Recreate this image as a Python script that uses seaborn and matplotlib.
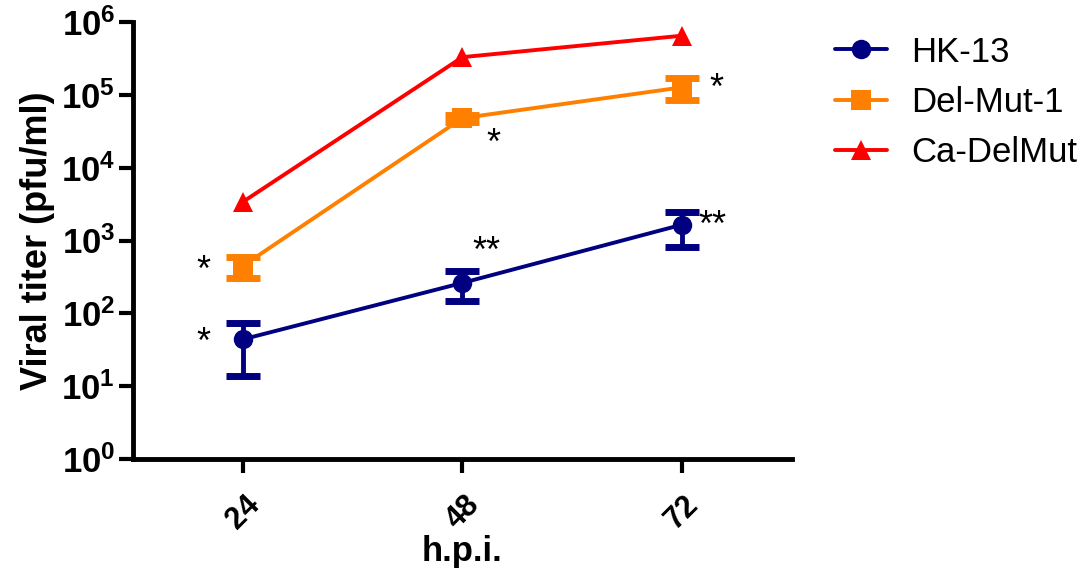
import numpy as np
import pandas as pd
import matplotlib
matplotlib.use("Agg")
import matplotlib.pyplot as plt
import seaborn as sns

# data (mean and SD, pfu/ml)
hours = [24, 48, 72]
strains = ["HK-13", "Del-Mut-1", "Ca-DelMut"]
hk13_mean = [44, 262, 1650]
hk13_sd = [30, 115, 830]
delmut_mean = [450, 48000, 127000]
delmut_sd = [140, 5000, 43000]
cadelmut_mean = [3400, 330000, 650000]
cadelmut_sd = [0, 0, 0]

# significance marks: (strain, hour, text)
stars = [("HK-13", 24, "*"), ("Del-Mut-1", 24, "*"),
         ("HK-13", 48, "**"), ("Del-Mut-1", 48, "*"),
         ("HK-13", 72, "**"), ("Del-Mut-1", 72, "*")]
star_offsets = [(-40, -4), (-40, -6), (24, 30), (31, -26), (30, -2), (34, -2)]

colors = {"HK-13": "#000080", "Del-Mut-1": "#FF8000", "Ca-DelMut": "#FF0000"}
markers = {"HK-13": "o", "Del-Mut-1": "s", "Ca-DelMut": "^"}
msizes = {"HK-13": 14, "Del-Mut-1": 14, "Ca-DelMut": 15}

df = pd.DataFrame({
    "hpi": hours * 3,
    "titer": hk13_mean + delmut_mean + cadelmut_mean,
    "sd": hk13_sd + delmut_sd + cadelmut_sd,
    "strain": [s for s in strains for _ in hours],
})

sns.set_style("ticks")
plt.rcParams["font.family"] = ["Liberation Sans", "DejaVu Sans"]
plt.rcParams["mathtext.fontset"] = "custom"
plt.rcParams["mathtext.rm"] = "Liberation Sans:bold"
plt.rcParams["mathtext.bf"] = "Liberation Sans:bold"
plt.rcParams["mathtext.it"] = "Liberation Sans:bold"
plt.rcParams["text.color"] = "black"
plt.rcParams["axes.labelcolor"] = "black"
plt.rcParams["xtick.color"] = "black"
plt.rcParams["ytick.color"] = "black"
plt.rcParams["axes.edgecolor"] = "black"

fig = plt.figure(figsize=(10.83, 5.81), dpi=100)
ax = fig.add_axes([0.123, 0.21, 0.608, 0.752])

# error bars first, then lines/markers on top
for s in strains:
    sub = df[df["strain"] == s]
    if sub["sd"].sum() > 0:
        ax.errorbar(sub["hpi"], sub["titer"], yerr=sub["sd"], fmt="none",
                    ecolor=colors[s], elinewidth=3.5, capsize=12, capthick=5,
                    zorder=2)

sns.lineplot(data=df, x="hpi", y="titer", hue="strain", style="strain",
             palette=colors, markers=markers, dashes=False, linewidth=2.8,
             markeredgewidth=0, ax=ax, zorder=3)
for line in ax.lines:
    for s in strains:
        if line.get_label() == s or matplotlib.colors.same_color(line.get_color(), colors[s]):
            line.set_markersize(msizes[s])

ax.set_yscale("log")
ax.set_ylim(1, 1e6)
ax.set_xlim(12, 84)
ax.set_xticks(hours)
ax.set_xticklabels([str(h) for h in hours], rotation=45, fontsize=22,
                   fontweight="bold")
ax.set_yticks([10.0 ** k for k in range(7)])
ax.yaxis.set_minor_locator(matplotlib.ticker.NullLocator())
for t in ax.get_yticklabels():
    t.set_fontsize(25)
    t.set_fontweight("bold")

ax.set_xlabel("h.p.i.", fontsize=25, fontweight="bold", labelpad=0)
ax.set_ylabel("Viral titer (pfu/ml)", fontsize=26, fontweight="bold",
              labelpad=4)

sns.despine(ax=ax)
for side in ["left", "bottom"]:
    ax.spines[side].set_linewidth(3.5)
ax.tick_params(axis="both", width=3, length=10, direction="out")
ax.tick_params(axis="x", pad=12)
ax.tick_params(axis="y", pad=3)

# asterisks
lookup = {(r.strain, r.hpi): r.titer for r in df.itertuples()}
for (s, h, txt), off in zip(stars, star_offsets):
    ax.annotate(txt, xy=(h, lookup[(s, h)]), xytext=off,
                textcoords="offset pixels", ha="center", va="center",
                fontsize=26)

handles, labels = ax.get_legend_handles_labels()
ax.legend(handles, labels, loc="upper left", bbox_to_anchor=(1.055, 0.985),
          borderaxespad=0, borderpad=0.2, frameon=False, fontsize=25,
          handlelength=1.5, handletextpad=0.7, labelspacing=0.5)

fig.savefig("out.png", dpi=100)
